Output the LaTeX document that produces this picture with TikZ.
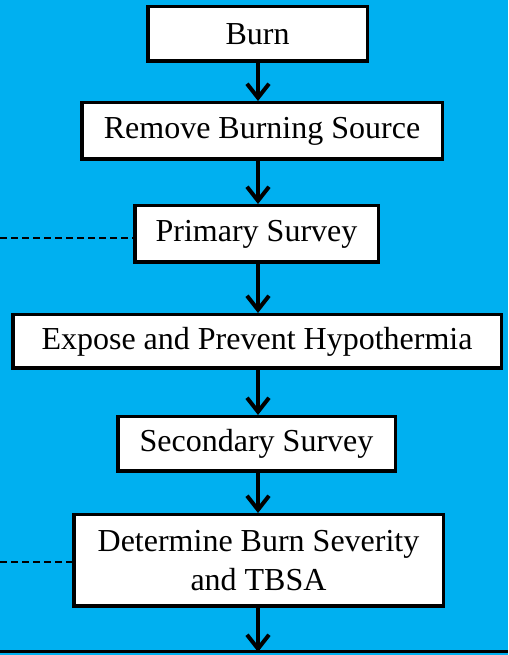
\documentclass[tikz,border=0pt]{standalone}
\usepackage{fontspec}
\setmainfont{Liberation Serif}
\usetikzlibrary{arrows.meta}
\definecolor{skyblue}{HTML}{00B0F0}
\tikzset{
	stage/.style={draw, line width=3.5pt, fill=white, inner sep=0pt, align=center,
		font=\fontsize{32}{39}\selectfont},
	flow/.style={line width=4pt, -{Straight Barb[length=14pt,width=22pt]}},
	link/.style={line width=2.2pt, dash pattern=on 7pt off 4pt},
}
\begin{document}
\begin{tikzpicture}[x=1pt,y=1pt]
			% Background
			\fill[skyblue] (0,0) rectangle (508,655);
			\useasboundingbox (0,0) rectangle (508,655);
			
			% Shapes
			\coordinate (A) at (257.5,621);
			\coordinate (B) at (262,524);
			\coordinate (C) at (256.5,421);
			\coordinate (D) at (257,313.5);
			\coordinate (E) at (256.5,211);
			\coordinate (F) at (258.5,94.5);
			
			\node[stage, minimum width=219.5pt, minimum height=54.5pt] (burn) at (A) {Burn};
			\node[stage, minimum width=360.5pt, minimum height=56.5pt] (remove) at (B) {Remove Burning Source};
			\node[stage, minimum width=243.5pt, minimum height=56.5pt] (primary) at (C) {Primary Survey};
			\node[stage, minimum width=488.5pt, minimum height=53.5pt] (expose) at (D) {Expose and Prevent Hypothermia};
			\node[stage, minimum width=277.5pt, minimum height=54.5pt] (secondary) at (E) {Secondary Survey};
			\node[stage, minimum width=369.5pt, minimum height=91.5pt] (severity) at (F) {Determine Burn Severity\\and TBSA};
			
			\coordinate (S) at (258,0);
			\coordinate (L) at (0,3);
			\coordinate (R) at (508,3);
			\draw[line width=3pt] (L) -- (R);
			
			% Arrows
			\foreach \from/\to in {burn/remove, remove/primary, primary/expose, expose/secondary, secondary/severity} {
				\draw[flow] (\from.south -| S) -- (\to.north -| S);
			}
			\draw[flow] (severity.south -| S) -- (S |- L);
			
			% Dashed links
			\coordinate (P) at (0,417);
			\coordinate (Q) at (0,93);
			\draw[link] (P) -- (P -| primary.west);
			\draw[link] (Q) -- (Q -| severity.west);
		\end{tikzpicture}
\end{document}
